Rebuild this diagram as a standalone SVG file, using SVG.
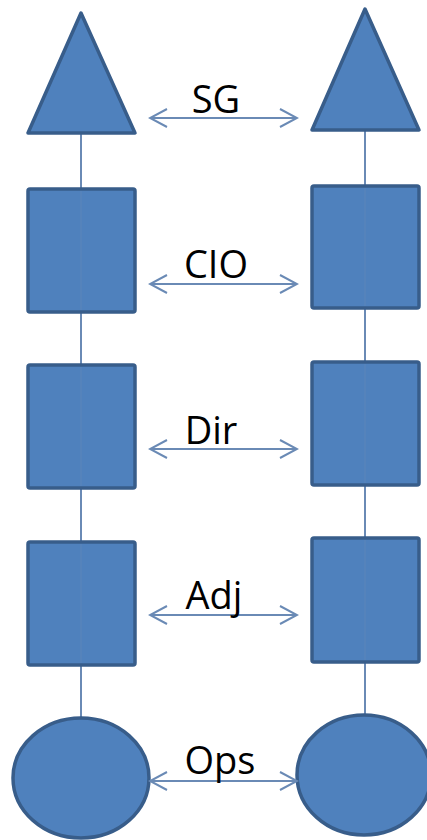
<svg xmlns="http://www.w3.org/2000/svg" width="427" height="840" viewBox="0 0 427 840">
<defs>
<style>
.shape{fill:#4F81BD;stroke:#385D8A;stroke-width:3.5;stroke-linejoin:round}
.vline{stroke:#6A8AB5;stroke-width:2;fill:none}
.faint{stroke:#6A8AB5;stroke-width:1.5;opacity:0.35;fill:none}
.arrow{stroke:#6A8AB5;stroke-width:2;fill:none;marker-start:url(#head);marker-end:url(#head)}
.lbl{font-family:"Open Sans","Liberation Sans",sans-serif;font-size:38px;fill:#000;text-anchor:middle}
</style>
<marker id="head" viewBox="0 0 20 20" refX="18" refY="10" markerWidth="20" markerHeight="20" markerUnits="userSpaceOnUse" orient="auto-start-reverse">
<path d="M1,1 L18,10 L1,19" fill="none" stroke="#6A8AB5" stroke-width="2"/>
</marker>
</defs>
<rect width="427" height="840" fill="#fff"/>
<g id="connectors-back">
<line class="vline" x1="81" y1="133" x2="81" y2="720"/>
<line class="vline" x1="365" y1="130" x2="365" y2="716"/>
</g>
<g id="left-sg"><polygon class="shape" points="81,13 135,133 28,133"/></g>
<g id="right-sg"><polygon class="shape" points="365,9 419,130 312,130"/></g>
<g id="left-cio"><rect class="shape" x="28" y="189" width="107" height="123" rx="2"/></g>
<g id="right-cio"><rect class="shape" x="312" y="186" width="107" height="122" rx="2"/></g>
<g id="left-dir"><rect class="shape" x="28" y="365" width="107" height="123" rx="2"/></g>
<g id="right-dir"><rect class="shape" x="312" y="362" width="107" height="123" rx="2"/></g>
<g id="left-adj"><rect class="shape" x="28" y="542" width="107" height="123" rx="2"/></g>
<g id="right-adj"><rect class="shape" x="312" y="538" width="107" height="124" rx="2"/></g>
<g id="left-ops"><ellipse class="shape" cx="81" cy="778" rx="68" ry="60"/></g>
<g id="right-ops"><ellipse class="shape" cx="364" cy="775" rx="67" ry="60"/></g>
<g id="connectors">
<line class="faint" x1="81" y1="191" x2="81" y2="310"/>
<line class="faint" x1="81" y1="367" x2="81" y2="486"/>
<line class="faint" x1="81" y1="544" x2="81" y2="663"/>
<line class="faint" x1="365" y1="188" x2="365" y2="306"/>
<line class="faint" x1="365" y1="364" x2="365" y2="483"/>
<line class="faint" x1="365" y1="540" x2="365" y2="660"/>
<line class="arrow" x1="150" y1="118" x2="297" y2="118"/>
<line class="arrow" x1="150" y1="284" x2="297" y2="284"/>
<line class="arrow" x1="150" y1="449" x2="297" y2="449"/>
<line class="arrow" x1="150" y1="615" x2="297" y2="615"/>
<line class="arrow" x1="150" y1="781" x2="297" y2="781"/>
</g>
<g id="labels">
<text class="lbl" x="216" y="113">SG</text>
<text class="lbl" x="216" y="278">CIO</text>
<text class="lbl" x="211" y="444">Dir</text>
<text class="lbl" x="214" y="609">Adj</text>
<text class="lbl" x="220" y="774">Ops</text>
</g>
</svg>
